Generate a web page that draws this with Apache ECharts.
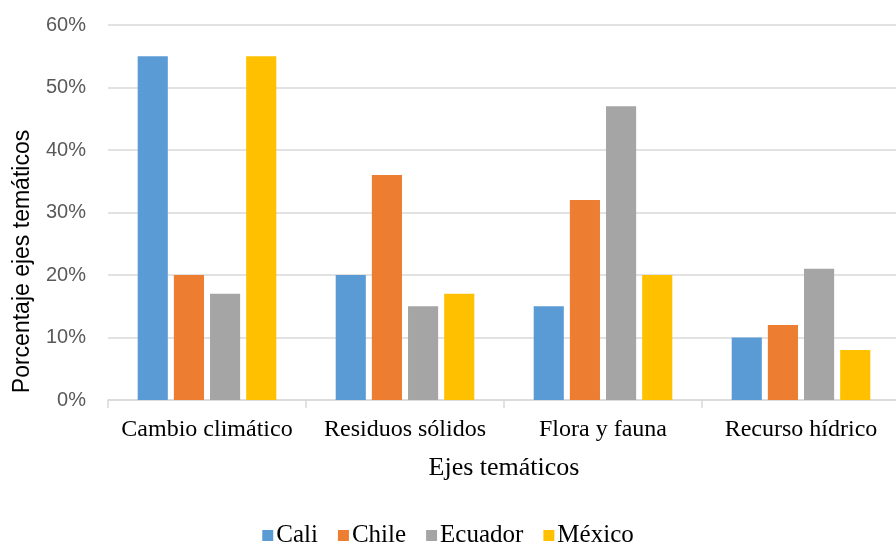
<!DOCTYPE html>
<html><head><meta charset="utf-8">
<script src="https://cdn.jsdelivr.net/npm/echarts@6/dist/echarts.min.js"></script>
<style>html,body{margin:0;padding:0;background:#fff}#c{width:896px;height:544px}</style>
</head><body><div id="c"></div>
<script>
const categories = ['Cambio climático', 'Residuos sólidos', 'Flora y fauna', 'Recurso hídrico'];
const seriesNames = ['Cali', 'Chile', 'Ecuador', 'México'];
const cali = [55, 20, 15, 10];
const chile = [20, 36, 32, 12];
const ecuador = [17, 15, 47, 21];
const mexico = [55, 17, 20, 8];
const colors = ['#5b9bd5', '#ed7d31', '#a5a5a5', '#ffc000'];
const values = [cali, chile, ecuador, mexico];
const chart = echarts.init(document.getElementById('c'));
const serif = 'Liberation Serif';
chart.setOption({
  animation: false,
  grid: {left: 108, right: -4, top: 25, bottom: 144, containLabel: false, outerBoundsMode: 'none'},
  legend: {
    top: 518, left: 'center', itemWidth: 11, itemHeight: 11, itemGap: 20,
    icon: 'rect',
    textStyle: {fontFamily: serif, fontSize: 25, color: '#000', padding: [0, 0, 0, -2]},
    data: seriesNames
  },
  xAxis: {
    type: 'category', data: categories,
    name: 'Ejes temáticos', nameLocation: 'middle', nameGap: 55,
    nameTextStyle: {fontFamily: serif, fontSize: 26, color: '#000'},
    axisLine: {lineStyle: {color: '#d9d9d9', width: 1.5}},
    axisTick: {show: true, length: 8, lineStyle: {color: '#d9d9d9', width: 1.5}},
    axisLabel: {interval: 0, hideOverlap: false, fontFamily: serif, fontSize: 24, color: '#000', margin: 18}
  },
  yAxis: {
    type: 'value', min: 0, max: 60, interval: 10,
    name: 'Porcentaje ejes temáticos', nameLocation: 'middle', nameGap: 74,
    nameTextStyle: {fontFamily: 'Liberation Sans', fontSize: 23, color: '#000', padding: [0, 98, 0, 0]},
    axisLine: {show: false}, axisTick: {show: false},
    splitLine: {lineStyle: {color: '#d9d9d9', width: 1.5}},
    axisLabel: {formatter: '{value}%', fontFamily: 'Liberation Sans', fontSize: 20, color: '#595959', margin: 22}
  },
  series: seriesNames.map((n, i) => ({
    name: n, type: 'bar', data: values[i],
    barGap: '20%', barCategoryGap: '30%',
    itemStyle: {color: colors[i]}
  }))
});
</script></body></html>
